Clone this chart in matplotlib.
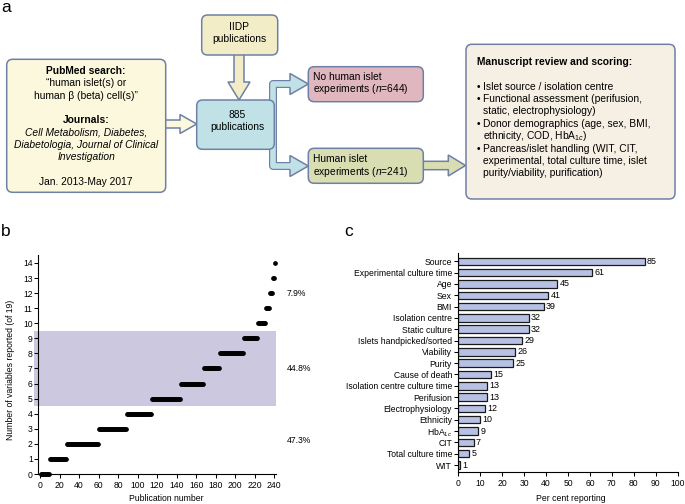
import numpy as np
import matplotlib
matplotlib.use("Agg")
import matplotlib.pyplot as plt
from matplotlib.patches import FancyBboxPatch, Polygon, Rectangle

plt.rcParams['font.family'] = ['Liberation Sans', 'DejaVu Sans']
plt.rcParams['mathtext.fontset'] = 'custom'
plt.rcParams['mathtext.rm'] = 'Liberation Sans'
plt.rcParams['mathtext.it'] = 'Liberation Sans:italic'
plt.rcParams['mathtext.bf'] = 'Liberation Sans:bold'

# ---------------- Panel b data ----------------
levels = list(range(15))
run_counts = [9, 18, 32, 29, 26, 29, 24, 16, 25, 14, 9, 4, 3, 2, 1]
band_labels = ["7.9%", "44.8%", "47.3%"]
band_label_y = [12, 7, 2.2]
xticks_b = list(range(0, 241, 20))
yticks_b = list(range(0, 15))

# ---------------- Panel c data ----------------
variables = ["Source", "Experimental culture time", "Age", "Sex", "BMI",
             "Isolation centre", "Static culture", "Islets handpicked/sorted",
             "Viability", "Purity", "Cause of death",
             "Isolation centre culture time", "Perifusion", "Electrophysiology",
             "Ethnicity", "HbA$_{1c}$", "CIT", "Total culture time", "WIT"]
percent = [85, 61, 45, 41, 39, 32, 32, 29, 26, 25, 15, 13, 13, 12, 10, 9, 7, 5, 1]
xticks_c = list(range(0, 101, 10))

# ---------------- Panel a text ----------------
pubmed_lines = [("PubMed search:", "bold"), ("\u201chuman islet(s) or", "normal"),
                ("human \u03b2 (beta) cell(s)\u201d", "normal"), ("", "normal"),
                ("Journals:", "bold"), ("Cell Metabolism, Diabetes,", "italic"),
                ("Diabetologia, Journal of Clinical", "italic"),
                ("Investigation", "italic"), ("", "normal"),
                ("Jan. 2013-May 2017", "normal")]
iidp_lines = ["IIDP", "publications"]
total_lines = ["885", "publications"]
no_human_lines = ["No human islet", "experiments ($n$=644)"]
human_lines = ["Human islet", "experiments ($n$=241)"]
review_title = "Manuscript review and scoring:"
review_lines = [(True, "Islet source / isolation centre"),
                (True, "Functional assessment (perifusion,"),
                (False, "static, electrophysiology)"),
                (True, "Donor demographics (age, sex, BMI,"),
                (False, "ethnicity, COD, HbA$_{1c}$)"),
                (True, "Pancreas/islet handling (WIT, CIT,"),
                (False, "experimental, total culture time, islet"),
                (False, "purity/viability, purification)")]

W, H = 685, 504
fig = plt.figure(figsize=(W / 100, H / 100), dpi=100)

# overlay axes in pixel coords
ax0 = fig.add_axes([0, 0, 1, 1])
ax0.set_xlim(0, W)
ax0.set_ylim(H, 0)
ax0.axis('off')
ax0.patch.set_alpha(0)

EDGE = '#6f80a7'
C_PUB = '#fbf8dd'
C_IIDP = '#f3edc7'
C_TOT = '#c0e2e6'
C_NO = '#e0b7be'
C_HUM = '#d9ddb2'
C_REV = '#f6f0e4'
FS = 7.4


def box(x0, y0, x1, y1, fc):
    p = FancyBboxPatch((x0, y0), x1 - x0, y1 - y0,
                       boxstyle="round,pad=0,rounding_size=6",
                       fc=fc, ec=EDGE, lw=1.1, zorder=3)
    ax0.add_patch(p)


def harrow(xs, xb, xt, yc, sh, hh, fc):
    pts = [(xs, yc - sh), (xb, yc - sh), (xb, yc - hh), (xt, yc),
           (xb, yc + hh), (xb, yc + sh), (xs, yc + sh)]
    ax0.add_patch(Polygon(pts, closed=True, fc=fc, ec=EDGE, lw=1.1,
                          joinstyle='miter', zorder=2))


def varrow(ys, yb, yt, xc, sh, hh, fc):
    pts = [(xc - sh, ys), (xc - sh, yb), (xc - hh, yb), (xc, yt),
           (xc + hh, yb), (xc + sh, yb), (xc + sh, ys)]
    ax0.add_patch(Polygon(pts, closed=True, fc=fc, ec=EDGE, lw=1.1,
                          joinstyle='miter', zorder=2))


# boxes
box(6.7, 59.3, 165.7, 192.3, C_PUB)
box(201.7, 15, 277.7, 55, C_IIDP)
box(196.7, 100, 274.3, 149.3, C_TOT)
box(308.3, 66.7, 423.3, 101.7, C_NO)
box(308.3, 148.3, 423.3, 183.3, C_HUM)
box(466, 44.3, 675, 199, C_REV)

# arrows
harrow(160, 180, 196.7, 124, 4, 9.5, C_PUB)
varrow(50, 82, 100, 239, 5, 11, C_IIDP)
harrow(418, 448.3, 465.5, 165.5, 4.2, 10.5, C_HUM)

# branch arrow
bx = 273.5
path_x = [292, bx, bx, 292]
path_y = [84, 84, 166, 166]
ax0.plot(path_x, path_y, color=EDGE, lw=8 * 0.72, solid_joinstyle='round',
         solid_capstyle='butt', zorder=1)
ax0.plot(path_x, path_y, color=C_TOT, lw=5.6 * 0.72, solid_joinstyle='round',
         solid_capstyle='butt', zorder=1.1)
for yc in (84, 166):
    hh = 10.5
    ax0.add_patch(Polygon([(290, yc - hh), (308.3, yc), (290, yc + hh)],
                          closed=True, fc=C_TOT, ec='none', zorder=1.2))
    ax0.plot([290, 290, 308.3, 290, 290],
             [yc - 4, yc - hh, yc, yc + hh, yc + 4],
             color=EDGE, lw=1.1, solid_joinstyle='miter', zorder=1.3)

# texts
y = 71
for txt, sty in pubmed_lines:
    if txt:
        ax0.text(86.2, y, txt, ha='center', va='center', fontsize=FS,
                 fontweight='bold' if sty == 'bold' else 'normal',
                 fontstyle='italic' if sty == 'italic' else 'normal', zorder=5)
    y += 12.3

for i, t in enumerate(iidp_lines):
    ax0.text(239.5, 26.7 + i * 12.6, t, ha='center', va='center', fontsize=FS, zorder=5)
for i, t in enumerate(total_lines):
    ax0.text(237.5, 115 + i * 12, t, ha='center', va='center', fontsize=FS, zorder=5)
for i, t in enumerate(no_human_lines):
    ax0.text(313.5, 77 + i * 12.5, t, ha='left', va='center', fontsize=FS, zorder=5)
for i, t in enumerate(human_lines):
    ax0.text(313.5, 159.3 + i * 12.5, t, ha='left', va='center', fontsize=FS, zorder=5)

ax0.text(476.7, 61.7, review_title, ha='left', va='center', fontsize=FS,
         fontweight='bold', zorder=5)
y = 61.7 + 2 * 12.4
for bullet, t in review_lines:
    if bullet:
        ax0.text(476.2, y, "\u2022", ha='left', va='center', fontsize=FS, zorder=5)
    ax0.text(482.7, y, t, ha='left', va='center', fontsize=FS, zorder=5)
    y += 12.4

# panel letters
for lx, ly, lt in [(1, 12, 'a'), (1, 236, 'b'), (344, 236.5, 'c')]:
    ax0.text(lx, ly, lt, ha='left', va='baseline', fontsize=12.5, zorder=5)

# ---------------- Panel b ----------------
TFS = 6.2
axb = fig.add_axes([38.3 / W, 1 - 474 / H, (276 - 38.3) / W, (474 - 255) / H])
axb.patch.set_alpha(0)
pub_y = np.repeat(levels, run_counts)
pub_x = np.arange(1, len(pub_y) + 1)
axb.add_patch(Rectangle((-6, 4.5), 248.1, 5.0, fc='#cbc8e0', ec='none',
                        zorder=0, clip_on=False))
axb.plot(pub_x, pub_y, 'o', color='black', ms=3.4, mew=0, zorder=3, clip_on=False)
axb.set_xlim(-1.74, 241.8)
axb.set_ylim(0, 14.53)
axb.set_xticks(xticks_b)
axb.set_yticks(yticks_b)
for s in ('top', 'right'):
    axb.spines[s].set_visible(False)
for s in ('left', 'bottom'):
    axb.spines[s].set_linewidth(0.8)
axb.tick_params(axis='both', labelsize=TFS, length=3, width=0.75, direction='out')
axb.tick_params(axis='x', pad=2)
axb.tick_params(axis='y', pad=1)
for t, yy in zip(band_labels, band_label_y):
    axb.text(252.8, yy, t, ha='left', va='center', fontsize=TFS, clip_on=False)
ax0.text(166, 498.3, "Publication number", ha='center', va='center', fontsize=TFS)
ax0.text(10.3, 370, "Number of variables reported (of 19)", ha='center', va='center',
         rotation=90, fontsize=TFS)

# ---------------- Panel c ----------------
axc = fig.add_axes([458.3 / W, 1 - 471.7 / H, (677.7 - 458.3) / W, (471.7 - 253.3) / H])
axc.patch.set_alpha(0)
ypos = np.arange(len(variables))
axc.barh(ypos, percent, height=0.66, color='#b7c1e4', edgecolor='#1a1a1a',
         linewidth=0.9, zorder=2)
for yv, v in zip(ypos, percent):
    axc.annotate(str(v), (v, yv), xytext=(1.6, 0), textcoords='offset points',
                 ha='left', va='center', fontsize=6.4)
axc.set_ylim(18.59, -0.71)
axc.set_xlim(0, 100)
axc.set_yticks(ypos)
axc.set_yticklabels(variables)
axc.set_xticks(xticks_c)
for s in ('top', 'right'):
    axc.spines[s].set_visible(False)
for s in ('left', 'bottom'):
    axc.spines[s].set_linewidth(0.8)
axc.tick_params(axis='both', labelsize=TFS, length=3, width=0.75, direction='out')
axc.tick_params(axis='x', pad=2)
axc.tick_params(axis='y', pad=1.5)
ax0.text(571, 498.3, "Per cent reporting", ha='center', va='center', fontsize=TFS)

fig.savefig("out.png", dpi=100)
